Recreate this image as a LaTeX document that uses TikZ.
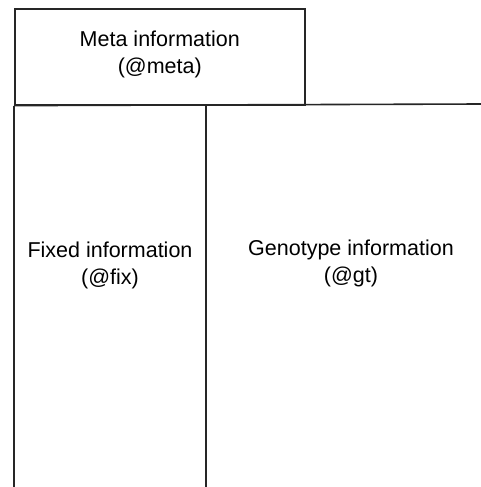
\documentclass[tikz,border=0pt]{standalone}
\usepackage{fontspec}
\setmainfont{Liberation Sans}
\begin{document}
\begin{tikzpicture}[x=1pt,y=-1pt,
  rule/.style={line width=1.6pt,draw=black!85},
  label/.style={align=center,font=\fontsize{21.5}{27}\selectfont,inner sep=0pt}]
\useasboundingbox (0,0) rectangle (481,487);
% meta information block
\node[rule,draw,rectangle,minimum width=290pt,minimum height=96pt,anchor=north west] (meta) at (14,8) {};
\node[label] (metatext) at ([yshift=2pt]meta.center) {Meta information\\(@meta)};
% frame corners for the two lower regions
\coordinate (split) at (206,104);
\coordinate (leftbot) at (14,487);
\coordinate (splitbot) at (206,487);
\coordinate (rightend) at (481,104);
\draw[rule] (meta.south west) -- (rightend);
\draw[rule] (meta.south west) -- (leftbot);
\draw[rule] (split) -- (splitbot);
% region labels
\node[label] (fix) at (110,265) {Fixed information\\(@fix)};
\node[label] (gt) at (351,263) {Genotype information\\(@gt)};
\end{tikzpicture}
\end{document}
